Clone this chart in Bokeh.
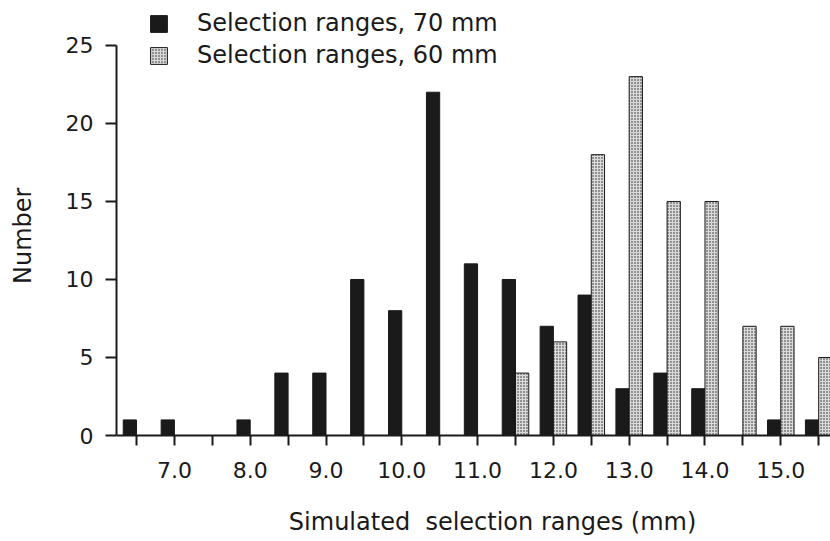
from bokeh.plotting import figure
from bokeh.models import (ColumnDataSource, FixedTicker, PrintfTickFormatter,
                          Legend, LegendItem, Range1d)
from bokeh.transform import dodge
from bokeh.embed import file_html
from bokeh.resources import INLINE

# ---- data ----
ranges_mm = [6.5, 7.0, 7.5, 8.0, 8.5, 9.0, 9.5, 10.0, 10.5, 11.0,
             11.5, 12.0, 12.5, 13.0, 13.5, 14.0, 14.5, 15.0, 15.5]
count_70mm = [1, 1, 0, 1, 4, 4, 10, 8, 22, 11, 10, 7, 9, 3, 4, 3, 0, 1, 1]
count_60mm = [0, 0, 0, 0, 0, 0, 0, 0, 0, 0, 4, 6, 18, 23, 15, 15, 7, 7, 5]
label_ticks = [7.0, 8.0, 9.0, 10.0, 11.0, 12.0, 13.0, 14.0, 15.0]
y_ticks = [0, 5, 10, 15, 20, 25]
series_names = ["Selection ranges, 70 mm", "Selection ranges, 60 mm"]
x_title = "Simulated\u00a0 selection ranges (mm)"
y_title = "Number"

src = ColumnDataSource(dict(x=ranges_mm, a=count_70mm, b=count_60mm))

FONT = "DejaVu Sans"
INK = "#1a1a1a"
NBSP = "\u00a0"

p = figure(width=830, height=541, output_backend="svg", toolbar_location=None,
           x_range=Range1d(6.236, 15.656), y_range=Range1d(0, 27.56),
           min_border_left=116, min_border_right=0, min_border_top=5,
           min_border_bottom=106)
p.outline_line_color = None
p.xgrid.visible = False
p.ygrid.visible = False
p.background_fill_color = "white"
p.border_fill_color = "white"

bw = 0.175
r70 = p.vbar(x=dodge("x", -bw / 2, range=p.x_range), top="a", width=bw, source=src,
             fill_color=INK, line_color=INK, line_width=1)
r60 = p.vbar(x=dodge("x", bw / 2, range=p.x_range), top="b", width=bw, source=src,
             fill_color="#dadada", line_color=INK, line_width=1,
             hatch_pattern="dot", hatch_color="#222222", hatch_scale=3,
             hatch_weight=1.5)

# x axis
xa = p.xaxis[0]
xa.ticker = FixedTicker(ticks=label_ticks,
                        minor_ticks=[v for v in ranges_mm if v not in label_ticks])
xa.formatter = PrintfTickFormatter(format="%.1f")
xa.axis_line_width = 2
xa.axis_line_color = INK
xa.major_tick_line_width = 2
xa.minor_tick_line_width = 2
xa.major_tick_line_color = INK
xa.minor_tick_line_color = INK
xa.major_tick_out = 10
xa.major_tick_in = 0
xa.minor_tick_out = 10
xa.minor_tick_in = 0
xa.major_label_standoff = 16
xa.major_label_text_font = FONT
xa.major_label_text_font_size = "22px"
xa.major_label_text_color = INK
# leading spaces shift the centred title right, as in the reference
xa.axis_label = NBSP * 5 + x_title
xa.axis_label_standoff = 27
xa.axis_label_text_font = FONT
xa.axis_label_text_font_size = "24px"
xa.axis_label_text_font_style = "normal"
xa.axis_label_text_color = INK

# y axis
ya = p.yaxis[0]
ya.ticker = FixedTicker(ticks=y_ticks)
ya.bounds = (0, 25)
ya.axis_line_width = 2
ya.axis_line_color = INK
ya.major_tick_line_width = 2
ya.major_tick_line_color = INK
ya.major_tick_out = 11
ya.major_tick_in = 0
ya.minor_tick_line_color = None
ya.major_label_standoff = 12
ya.major_label_text_font = FONT
ya.major_label_text_font_size = "22px"
ya.major_label_text_color = INK
# trailing spaces shift the rotated title downwards, as in the reference
ya.axis_label = y_title + NBSP * 4
ya.axis_label_standoff = 26
ya.axis_label_text_font = FONT
ya.axis_label_text_font_size = "24px"
ya.axis_label_text_font_style = "normal"
ya.axis_label_text_color = INK

legend = Legend(items=[LegendItem(label=series_names[0], renderers=[r70]),
                       LegendItem(label=series_names[1], renderers=[r60])],
                location=(32, 366), orientation="vertical",
                glyph_width=21, glyph_height=21, label_standoff=28,
                label_text_font=FONT, label_text_font_size="24px",
                label_text_color=INK, spacing=4, padding=0, margin=0,
                border_line_color=None, background_fill_alpha=0)
p.add_layout(legend)

open("out.html", "w").write(file_html(p, INLINE))
